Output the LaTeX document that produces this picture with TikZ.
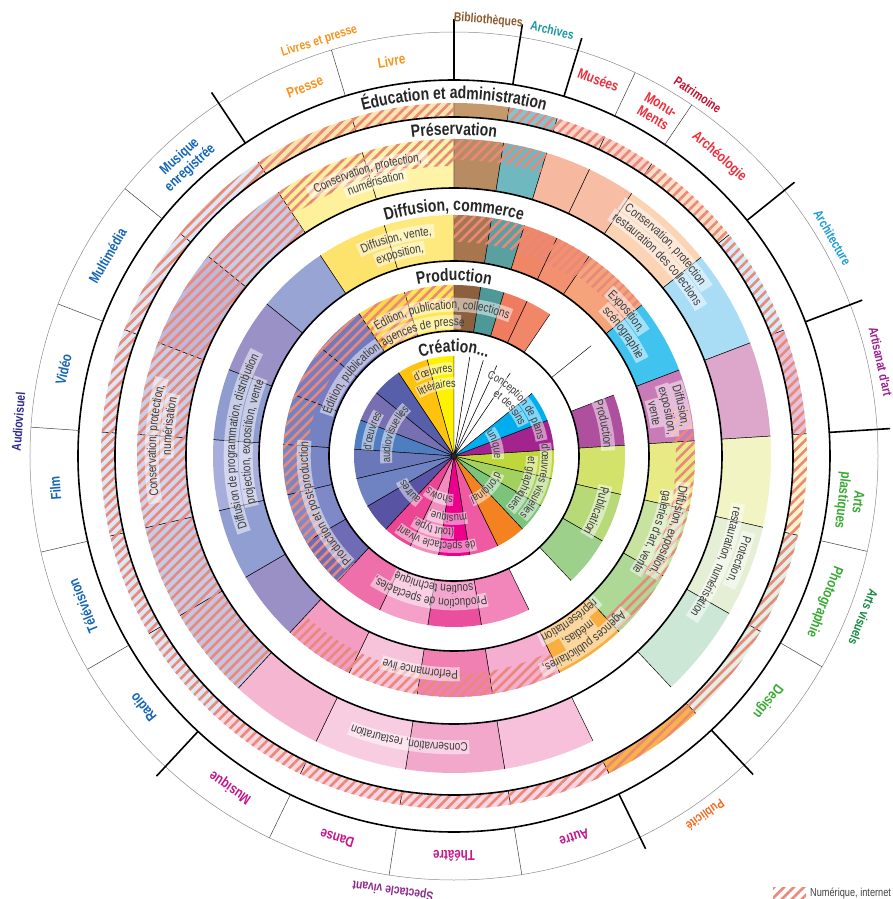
\documentclass[tikz,border=0pt]{standalone}
\usepackage{fontspec}
\setmainfont{Liberation Sans}
\newfontfamily\cond[FakeStretch=0.8]{Liberation Sans}
\usetikzlibrary{decorations.text}
\usetikzlibrary{patterns.meta}
\definecolor{hatchc}{HTML}{E8897A}
\definecolor{txt}{HTML}{3A3A3A}
\definecolor{cLiv}{HTML}{F7941D}
\definecolor{cBib}{HTML}{8C5A2E}
\definecolor{cArc}{HTML}{1A97A0}
\definecolor{cPat}{HTML}{EE2E3B}
\definecolor{cPatG}{HTML}{C8102E}
\definecolor{cArch}{HTML}{1B9AD6}
\definecolor{cArti}{HTML}{9E1F8E}
\definecolor{cArt}{HTML}{3AAA35}
\definecolor{cArtG}{HTML}{138A3E}
\definecolor{cPub}{HTML}{F26B21}
\definecolor{cSpe}{HTML}{C5168C}
\definecolor{cSpeG}{HTML}{8E2C8E}
\definecolor{cAud}{HTML}{1565B5}
\definecolor{cAudG}{HTML}{2E2A8E}
\newcommand\titlefont{\cond\bfseries\fontsize{17.5}{18}\selectfont}
\newcommand\domfont{\cond\bfseries\fontsize{14.5}{15.5}\selectfont}
\newcommand\grpfont{\cond\bfseries\fontsize{13}{14}\selectfont}
\newcommand\txtfont{\cond\fontsize{12.5}{13}\selectfont}
\newcommand\piefont{\cond\fontsize{11.5}{12}\selectfont}
% ring piece: inner r, outer r, from, to, colour
\newcommand\ringseg[5]{\definecolor{tmpc}{HTML}{#5}%
  \fill[tmpc] (#3:#1) arc[start angle=#3,end angle=#4,radius=#1] -- (#4:#2) arc[start angle=#4,end angle=#3,radius=#2] -- cycle;
  \draw[cut] (#3:#1) -- (#3:#2) (#4:#1) -- (#4:#2);}
\newcommand\ringhatch[4]{%
  \fill[hatch] (#3:#1) arc[start angle=#3,end angle=#4,radius=#1] -- (#4:#2) arc[start angle=#4,end angle=#3,radius=#2] -- cycle;}
\newcommand\pieseg[3]{\definecolor{tmpc}{HTML}{#3}%
  \fill[tmpc] (0,0) -- (#1:100) arc[start angle=#1,end angle=#2,radius=100] -- cycle;
  \draw[cut] (0,0) -- (#1:100) (0,0) -- (#2:100);}
% text on a circle: angle, baseline radius, half width of the box, text
\newcommand\ringtext[4]{%
  \draw[boxband] ({#1+#3}:{#2+4.3}) arc[start angle={#1+#3},end angle={#1-#3},radius={#2+4.3}];
  \path[decorate,decoration={text along path,text align=center,text={|\txtfont\color{txt}|#4}}]
    ({#1+80}:#2) arc[start angle={#1+80},end angle={#1-80},radius=#2];}
\newcommand\pietext[4]{%
  \draw[boxband,line width=12] ({#1+#3}:{#2+4}) arc[start angle={#1+#3},end angle={#1-#3},radius={#2+4}];
  \path[decorate,decoration={text along path,text align=center,text={|\piefont\color{txt}|#4}}]
    ({#1+80}:#2) arc[start angle={#1+80},end angle={#1-80},radius=#2];}
\newcommand\ringtitle[3]{%
  \path[decorate,decoration={text along path,text align=center,text={|\titlefont\color{black!85}|#3}}]
    ({#1+80}:#2) arc[start angle={#1+80},end angle={#1-80},radius=#2];}

\begin{document}
\begin{tikzpicture}[x=1pt,y=1pt,
  cut/.style={black,line width=0.45},
  ringline/.style={black,line width=1.6},
  tick/.style={black,line width=1.6},
  subtick/.style={black!75,line width=0.5},
  rim/.style={black!45,line width=0.5},
  hatch/.style={pattern={Lines[angle=45,distance=7pt,line width=2.6pt]},pattern color=hatchc,fill opacity=0.45},
  boxband/.style={white,draw opacity=0.5,line width=14},
  dom/.style={font=\domfont,align=center,inner sep=0},
  grp/.style={font=\grpfont,inner sep=0}]
\fill[white] (-454,-443) rectangle (438,456);
\useasboundingbox (-454,-443) rectangle (438,456);

% creation
\pieseg{90}{105.6}{FFF200}
\pieseg{105.6}{123.7}{FFC20E}
\pieseg{123.7}{140.9}{575FAB}
\pieseg{140.9}{159}{7670B3}
\pieseg{159}{176.1}{4F7DC1}
\pieseg{176.1}{193.1}{6A78BA}
\pieseg{193.1}{210.2}{6F82C2}
\pieseg{210.2}{227.1}{5953A4}
\pieseg{227.1}{244.2}{EC4594}
\pieseg{244.2}{261.2}{F28CBF}
\pieseg{261.2}{279.2}{EC008C}
\pieseg{279.2}{296}{EE5BA3}
\pieseg{296}{313.2}{F58220}
\pieseg{313.2}{330.2}{7CC47A}
\pieseg{330.2}{347}{A3D160}
\pieseg{347}{363.6}{BED73B}
\pieseg{3.6}{20.9}{A3238F}
\pieseg{20.9}{38.8}{00AEEF}
\pieseg{38.8}{55.9}{FFFFFF}
\pieseg{55.9}{64.7}{FFFFFF}
\pieseg{64.7}{73}{FFFFFF}
\pieseg{73}{81}{FFFFFF}
\pieseg{81}{90}{FFFFFF}
\fill[black!85] (0,0) circle[radius=2.5];

% production
\ringseg{125}{171}{106.8}{123.7}{FFD84A}
\ringseg{125}{171}{90}{106.8}{FFE553}
\ringseg{125}{171}{81}{90}{8C5F3D}
\ringseg{125}{171}{73}{81}{4E9897}
\ringseg{125}{171}{64.7}{73}{F07C60}
\ringseg{125}{171}{55.9}{64.7}{F28668}
\ringseg{125}{171}{3.6}{20.9}{AE509E}
\ringseg{125}{171}{-13}{3.6}{D3E26B}
\ringseg{125}{171}{-29.8}{-13}{B7D978}
\ringseg{125}{171}{-46.8}{-29.8}{9DD18B}
\ringseg{125}{171}{-80.8}{-64}{F286BA}
\ringseg{125}{171}{-98.8}{-80.8}{EA4F9D}
\ringseg{125}{171}{-115.8}{-98.8}{F4A0C8}
\ringseg{125}{171}{-132.9}{-115.8}{EE6FAA}
\ringseg{125}{171}{210.2}{227.1}{6F6BB4}
\ringseg{125}{171}{193.1}{210.2}{8089C8}
\ringseg{125}{171}{176.1}{193.1}{7A86C4}
\ringseg{125}{171}{159}{176.1}{7482C2}
\ringseg{125}{171}{140.9}{159}{7B7CC0}
\ringseg{125}{171}{123.7}{140.9}{7379BD}
\draw[cut] (38.8:125) -- (38.8:176);

% diffusion
\ringseg{195}{241}{106.8}{123.7}{FDE26C}
\ringseg{195}{241}{90}{106.8}{FEE97E}
\ringseg{195}{241}{81}{90}{A7764F}
\ringseg{195}{241}{73}{81}{5C9FA1}
\ringseg{195}{241}{64.7}{73}{EF8767}
\ringseg{195}{241}{55.9}{64.7}{F2906F}
\ringseg{195}{241}{38.8}{55.9}{F5A37A}
\ringseg{195}{241}{20.9}{38.8}{41C3F0}
\ringseg{195}{241}{3.6}{20.9}{C97BB8}
\ringseg{195}{241}{-13}{3.6}{E8EA86}
\ringseg{195}{241}{-29.8}{-13}{C8E29F}
\ringseg{195}{241}{-46.8}{-29.8}{AED895}
\ringseg{195}{241}{-64}{-46.8}{F9AE40}
\ringseg{195}{241}{-80.8}{-64}{F5AECF}
\ringseg{195}{241}{-98.8}{-80.8}{EF80B1}
\ringseg{195}{241}{-115.8}{-98.8}{F7C3DA}
\ringseg{195}{241}{-132.9}{-115.8}{F39DC3}
\ringseg{195}{241}{210.2}{227.1}{9B90C6}
\ringseg{195}{241}{193.1}{210.2}{909ED2}
\ringseg{195}{241}{176.1}{193.1}{A7AEDB}
\ringseg{195}{241}{159}{176.1}{8F9CD0}
\ringseg{195}{241}{140.9}{159}{9A92C7}
\ringseg{195}{241}{123.7}{140.9}{98A4D4}

% preservation
\ringseg{268}{317}{106.8}{123.7}{FFF09C}
\ringseg{268}{317}{90}{106.8}{FFF3A8}
\ringseg{268}{317}{81}{90}{B88C62}
\ringseg{268}{317}{73}{81}{70B8C0}
\ringseg{268}{317}{64.7}{73}{F7B8A0}
\ringseg{268}{317}{55.9}{64.7}{F8BDA5}
\ringseg{268}{317}{38.8}{55.9}{FBD4B6}
\ringseg{268}{317}{20.9}{38.8}{A9DCF5}
\ringseg{268}{317}{3.6}{20.9}{DDA7CC}
\ringseg{268}{317}{-13}{3.6}{F2F4C3}
\ringseg{268}{317}{-29.8}{-13}{E4EFD5}
\ringseg{268}{317}{-46.8}{-29.8}{CDE7D6}
\ringseg{268}{317}{-80.8}{-64}{F7C1DB}
\ringseg{268}{317}{-98.8}{-80.8}{F2A8CB}
\ringseg{268}{317}{-115.8}{-98.8}{F8CDE1}
\ringseg{268}{317}{-132.9}{-115.8}{F5B6D2}
\ringseg{268}{317}{210.2}{227.1}{C8C3DF}
\ringseg{268}{317}{193.1}{210.2}{C6CAE6}
\ringseg{268}{317}{176.1}{193.1}{D2D4EC}
\ringseg{268}{317}{159}{176.1}{C9CDE8}
\ringseg{268}{317}{140.9}{159}{BEB9DC}
\ringseg{268}{317}{123.7}{140.9}{C9CCE7}

% education et administration
\ringseg{339}{353}{106.8}{123.7}{FDE3A6}
\ringseg{339}{353}{90}{106.8}{FDE6AE}
\ringseg{339}{353}{81}{90}{C49A6C}
\ringseg{339}{353}{73}{81}{86C3D0}
\ringseg{339}{353}{64.7}{73}{FAD3C6}
\ringseg{339}{353}{55.9}{64.7}{FAD3C6}
\ringseg{339}{353}{38.8}{55.9}{FCE0C8}
\ringseg{339}{353}{20.9}{38.8}{D6EEF9}
\ringseg{339}{353}{3.6}{20.9}{E3C3DE}
\ringseg{339}{353}{-13}{3.6}{FFF5CC}
\ringseg{339}{353}{-29.8}{-13}{E3EFE3}
\ringseg{339}{353}{-46.8}{-29.8}{E3EFE3}
\ringseg{339}{353}{-64}{-46.8}{FBB347}
\ringseg{339}{353}{-80.8}{-64}{FAD6E2}
\ringseg{339}{353}{-98.8}{-80.8}{FAD6E2}
\ringseg{339}{353}{-115.8}{-98.8}{FAD6E2}
\ringseg{339}{353}{-132.9}{-115.8}{FAD6E2}
\ringseg{339}{353}{210.2}{227.1}{DDE6F3}
\ringseg{339}{353}{193.1}{210.2}{DDE6F3}
\ringseg{339}{353}{176.1}{193.1}{DDE6F3}
\ringseg{339}{353}{159}{176.1}{DDE6F3}
\ringseg{339}{353}{140.9}{159}{DDE6F3}
\ringseg{339}{353}{123.7}{140.9}{DDE6F3}

% numerique, internet
\ringhatch{339}{353}{90}{441}
\ringhatch{290}{317}{90}{123.7}
\ringhatch{296}{317}{73}{90}
\ringhatch{268}{317}{123.7}{227.1}
\ringhatch{214}{241}{55.9}{90}
\ringhatch{218}{241}{38.8}{55.9}
\ringhatch{218}{241}{3.6}{12}
\ringhatch{222}{241}{-46.8}{3.6}
\ringhatch{218}{241}{-132.9}{-64}
\ringhatch{125}{171}{106.8}{123.7}
\ringhatch{150}{171}{90}{106.8}
\ringhatch{146}{171}{123.7}{227.1}

% circles and ticks
\draw[rim] (0,0) circle[radius=424];
\foreach \r in {376,339,268,195,125}
  \draw[ringline] (0,0) circle[radius=\r];
\foreach \a in {90,81,73,38.8,20.9,3.6,-46.8,-64,-132.9,123.7}
  \draw[tick] (\a:376) -- (\a:437);
\foreach \a in {106.8,64.7,55.9,-13,-29.8,-80.8,-98.8,-115.8,-149.8,-166.9,176.1,159,140.9}
  \draw[subtick] (\a:376) -- (\a:424);

% ring titles
\ringtitle{90}{357}{Éducation et administration}
\ringtitle{90}{321}{Préservation}
\ringtitle{90}{245}{Diffusion, commerce}
\ringtitle{90}{175}{Production}
\ringtitle{90}{104}{Création...}

% texts in the pie
\pietext{104}{84}{13}{d'œuvres}
\pietext{104}{69}{16}{littéraires}
\pietext{163}{83}{13}{d'œuvres}
\pietext{160}{64}{26}{audiovisuelles}
\pietext{39}{85}{29}{Conception de plans}
\pietext{41}{72}{17}{et dessins}
\pietext{16}{40}{20}{unique}
\pietext{-17}{88}{25}{d'œuvres visuelles}
\pietext{-22}{74}{22}{et graphiques}
\pietext{-45}{44}{24}{d'original}
\pietext{-102}{87}{26}{de spectacle vivant}
\pietext{-106}{73}{16}{(tout type,}
\pietext{-96}{59}{18}{musique,}
\pietext{-110}{40}{19}{shows}
\pietext{-141}{54}{14}{autres}

% texts in production
\ringtext{95}{147}{27}{Édition, publication, collections}
\ringtext{104}{130}{17}{agences de presse}
\ringtext{143}{130}{19}{Édition, publication}
\ringtext{200}{146}{26}{Production et post-production}
\ringtext{12}{150}{10}{Production}
\ringtext{-21}{150}{10}{Publication}
\ringtext{-100}{143}{23}{Production de spectacles,}
\ringtext{-99}{129}{18}{soutien technique}

% texts in diffusion
\ringtext{105}{222}{10}{Diffusion, vente,}
\ringtext{105}{206}{7}{exposition,}
\ringtext{40}{222}{7}{Exposition,}
\ringtext{36}{207}{9}{scénographie}
\ringtext{12.5}{229}{6}{Diffusion,}
\ringtext{12}{215}{7}{exposition,}
\ringtext{12}{201}{4}{vente}
\ringtext{-19}{227}{12.5}{Diffusion, exposition,}
\ringtext{-21}{212}{12}{galeries d'art, vente}
\ringtext{-55}{227}{13}{Agences publicitaires,}
\ringtext{-55}{213}{5}{médias,}
\ringtext{-55}{199}{10}{représentation}
\ringtext{-99}{214}{10.5}{Performance live}
\ringtext{176}{219}{24}{Diffusion de programmation, distribution}
\ringtext{176}{204}{18}{projection, exposition, vente}

% texts in preservation
\ringtext{107}{296}{12}{Conservation, protection,}
\ringtext{106}{281}{6.5}{numérisation}
\ringtext{45}{299}{11.5}{Conservation, protection}
\ringtext{44}{284}{13}{restauration des collections}
\ringtext{-20}{300}{5.5}{Protection,}
\ringtext{-22}{284}{12.5}{restauration, numérisation}
\ringtext{-99}{287}{12}{Conservation, restauration}
\ringtext{177}{298}{12}{Conservation, protection,}
\ringtext{174}{283}{6.5}{numérisation}

% domains
\node[dom,text=cLiv,rotate=22] (presse) at (112:398) {Presse};
\node[dom,text=cLiv,rotate=9] (livre) at (99:400) {Livre};
\node[dom,text=cPat,rotate=-21] (musees) at (69:403) {Musées};
\node[dom,text=cPat,rotate=-30.5] (monuments) at (59.5:400) {Monu-\\Ments};
\node[dom,text=cPat,rotate=-41.5] (archeo) at (48.5:400) {Archéologie};
\node[dom,text=cArt,rotate=-96.5] (plastiques) at (-6.5:398) {Arts\\plastiques};
\node[dom,text=cArt,rotate=-111.5] (photo) at (-21.5:398) {Photographie};
\node[dom,text=cArt,rotate=-128] (design) at (-38:398) {Design};
\node[dom,text=cSpe,rotate=-162.5] (autre) at (-72.5:400) {Autre};
\node[dom,text=cSpe,rotate=-180] (theatre) at (-90:400) {Théâtre};
\node[dom,text=cSpe,rotate=-197] (danse) at (-107:400) {Danse};
\node[dom,text=cSpe,rotate=-214] (musique) at (-124:400) {Musique};
\node[dom,text=cAud,rotate=-231] (radio) at (-141:400) {Radio};
\node[dom,text=cAud,rotate=-248] (tele) at (-158:400) {Télévision};
\node[dom,text=cAud,rotate=94.6] (film) at (184.6:400) {Film};
\node[dom,text=cAud,rotate=77.5] (video) at (167.5:400) {Vidéo};
\node[dom,text=cAud,rotate=60] (multimedia) at (150:400) {Multimédia};
\node[dom,text=cAud,rotate=42.5] (musenreg) at (132.5:398) {Musique\\enregistrée};

% groups
\node[grp,text=cLiv,rotate=18] (livpresse) at (108:436) {Livres et presse};
\node[grp,text=cBib,rotate=-4.5] (biblio) at (85.5:437) {Bibliothèques};
\node[grp,text=cArc,rotate=-13] (archives) at (77:437) {Archives};
\node[grp,text=cPatG,rotate=-34] (patrimoine) at (56:436) {Patrimoine};
\node[grp,text=cArch,rotate=-60] (architecture) at (30:437) {Architecture};
\node[grp,text=cArti,rotate=-77.5] (artisanat) at (12.5:437) {Artisanat d'art};
\node[grp,text=cArtG,rotate=-111.5] (artsvis) at (-21.5:440) {Arts visuels};
\node[grp,text=cPub,rotate=-145] (publicite) at (-55:438) {Publicité};
\node[grp,text=cSpeG,rotate=-188] (spectacle) at (-98:438) {Spectacle vivant};
\node[grp,text=cAudG,rotate=85.5] (audiovisuel) at (175.5:437) {Audiovisuel};

% legend
\fill[hatch] (319,-442) rectangle (352,-431);
\node[anchor=west,inner sep=0,font=\cond\fontsize{11.5}{12}\selectfont,text=black!75] (legend) at (356,-437) {Numérique, internet};
\end{tikzpicture}
\end{document}
